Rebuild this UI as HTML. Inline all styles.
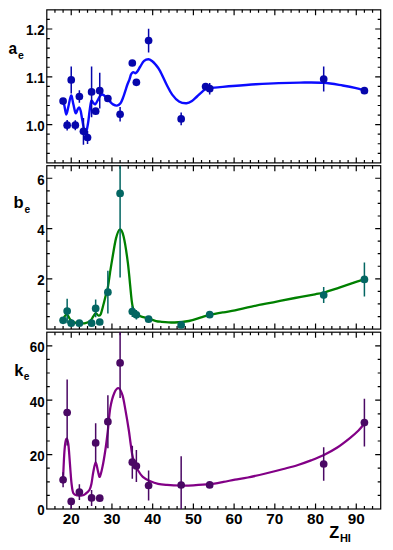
<!DOCTYPE html><html><head><meta charset="utf-8"><style>html,body{margin:0;padding:0;background:#fff;}svg{display:block;}text{font-family:"Liberation Sans",sans-serif;font-weight:bold;fill:#000;}</style></head><body><svg width="393" height="550" viewBox="0 0 393 550"><rect x="46.80" y="9.85" width="333.90" height="153.05" fill="none" stroke="#000" stroke-width="1.20"/><path d="M54.94,162.90v-3.00M54.94,9.85v3.00M63.09,162.90v-3.00M63.09,9.85v3.00M71.23,162.90v-5.50M71.23,9.85v5.50M79.38,162.90v-3.00M79.38,9.85v3.00M87.52,162.90v-3.00M87.52,9.85v3.00M95.66,162.90v-3.00M95.66,9.85v3.00M103.81,162.90v-3.00M103.81,9.85v3.00M111.95,162.90v-5.50M111.95,9.85v5.50M120.10,162.90v-3.00M120.10,9.85v3.00M128.24,162.90v-3.00M128.24,9.85v3.00M136.38,162.90v-3.00M136.38,9.85v3.00M144.53,162.90v-3.00M144.53,9.85v3.00M152.67,162.90v-5.50M152.67,9.85v5.50M160.81,162.90v-3.00M160.81,9.85v3.00M168.96,162.90v-3.00M168.96,9.85v3.00M177.10,162.90v-3.00M177.10,9.85v3.00M185.25,162.90v-3.00M185.25,9.85v3.00M193.39,162.90v-5.50M193.39,9.85v5.50M201.53,162.90v-3.00M201.53,9.85v3.00M209.68,162.90v-3.00M209.68,9.85v3.00M217.82,162.90v-3.00M217.82,9.85v3.00M225.97,162.90v-3.00M225.97,9.85v3.00M234.11,162.90v-5.50M234.11,9.85v5.50M242.25,162.90v-3.00M242.25,9.85v3.00M250.40,162.90v-3.00M250.40,9.85v3.00M258.54,162.90v-3.00M258.54,9.85v3.00M266.69,162.90v-3.00M266.69,9.85v3.00M274.83,162.90v-5.50M274.83,9.85v5.50M282.97,162.90v-3.00M282.97,9.85v3.00M291.12,162.90v-3.00M291.12,9.85v3.00M299.26,162.90v-3.00M299.26,9.85v3.00M307.40,162.90v-3.00M307.40,9.85v3.00M315.55,162.90v-5.50M315.55,9.85v5.50M323.69,162.90v-3.00M323.69,9.85v3.00M331.84,162.90v-3.00M331.84,9.85v3.00M339.98,162.90v-3.00M339.98,9.85v3.00M348.12,162.90v-3.00M348.12,9.85v3.00M356.27,162.90v-5.50M356.27,9.85v5.50M364.41,162.90v-3.00M364.41,9.85v3.00M372.56,162.90v-3.00M372.56,9.85v3.00M46.80,153.33h3.00M380.70,153.33h-3.00M46.80,143.77h3.00M380.70,143.77h-3.00M46.80,134.20h3.00M380.70,134.20h-3.00M46.80,124.64h5.50M380.70,124.64h-5.50M46.80,115.07h3.00M380.70,115.07h-3.00M46.80,105.51h3.00M380.70,105.51h-3.00M46.80,95.94h3.00M380.70,95.94h-3.00M46.80,86.37h3.00M380.70,86.37h-3.00M46.80,76.81h5.50M380.70,76.81h-5.50M46.80,67.24h3.00M380.70,67.24h-3.00M46.80,57.68h3.00M380.70,57.68h-3.00M46.80,48.11h3.00M380.70,48.11h-3.00M46.80,38.55h3.00M380.70,38.55h-3.00M46.80,28.98h5.50M380.70,28.98h-5.50M46.80,19.42h3.00M380.70,19.42h-3.00" stroke="#000" stroke-width="1.20" fill="none"/><rect x="46.80" y="165.70" width="333.90" height="163.40" fill="none" stroke="#000" stroke-width="1.20"/><path d="M54.94,329.10v-3.00M54.94,165.70v3.00M63.09,329.10v-3.00M63.09,165.70v3.00M71.23,329.10v-5.50M71.23,165.70v5.50M79.38,329.10v-3.00M79.38,165.70v3.00M87.52,329.10v-3.00M87.52,165.70v3.00M95.66,329.10v-3.00M95.66,165.70v3.00M103.81,329.10v-3.00M103.81,165.70v3.00M111.95,329.10v-5.50M111.95,165.70v5.50M120.10,329.10v-3.00M120.10,165.70v3.00M128.24,329.10v-3.00M128.24,165.70v3.00M136.38,329.10v-3.00M136.38,165.70v3.00M144.53,329.10v-3.00M144.53,165.70v3.00M152.67,329.10v-5.50M152.67,165.70v5.50M160.81,329.10v-3.00M160.81,165.70v3.00M168.96,329.10v-3.00M168.96,165.70v3.00M177.10,329.10v-3.00M177.10,165.70v3.00M185.25,329.10v-3.00M185.25,165.70v3.00M193.39,329.10v-5.50M193.39,165.70v5.50M201.53,329.10v-3.00M201.53,165.70v3.00M209.68,329.10v-3.00M209.68,165.70v3.00M217.82,329.10v-3.00M217.82,165.70v3.00M225.97,329.10v-3.00M225.97,165.70v3.00M234.11,329.10v-5.50M234.11,165.70v5.50M242.25,329.10v-3.00M242.25,165.70v3.00M250.40,329.10v-3.00M250.40,165.70v3.00M258.54,329.10v-3.00M258.54,165.70v3.00M266.69,329.10v-3.00M266.69,165.70v3.00M274.83,329.10v-5.50M274.83,165.70v5.50M282.97,329.10v-3.00M282.97,165.70v3.00M291.12,329.10v-3.00M291.12,165.70v3.00M299.26,329.10v-3.00M299.26,165.70v3.00M307.40,329.10v-3.00M307.40,165.70v3.00M315.55,329.10v-5.50M315.55,165.70v5.50M323.69,329.10v-3.00M323.69,165.70v3.00M331.84,329.10v-3.00M331.84,165.70v3.00M339.98,329.10v-3.00M339.98,165.70v3.00M348.12,329.10v-3.00M348.12,165.70v3.00M356.27,329.10v-5.50M356.27,165.70v5.50M364.41,329.10v-3.00M364.41,165.70v3.00M372.56,329.10v-3.00M372.56,165.70v3.00M46.80,316.53h3.00M380.70,316.53h-3.00M46.80,303.96h3.00M380.70,303.96h-3.00M46.80,291.39h3.00M380.70,291.39h-3.00M46.80,278.82h5.50M380.70,278.82h-5.50M46.80,266.25h3.00M380.70,266.25h-3.00M46.80,253.68h3.00M380.70,253.68h-3.00M46.80,241.12h3.00M380.70,241.12h-3.00M46.80,228.55h5.50M380.70,228.55h-5.50M46.80,215.98h3.00M380.70,215.98h-3.00M46.80,203.41h3.00M380.70,203.41h-3.00M46.80,190.84h3.00M380.70,190.84h-3.00M46.80,178.27h5.50M380.70,178.27h-5.50" stroke="#000" stroke-width="1.20" fill="none"/><rect x="46.80" y="332.20" width="333.90" height="176.80" fill="none" stroke="#000" stroke-width="1.20"/><path d="M54.94,509.00v-3.00M54.94,332.20v3.00M63.09,509.00v-3.00M63.09,332.20v3.00M71.23,509.00v-5.50M71.23,332.20v5.50M79.38,509.00v-3.00M79.38,332.20v3.00M87.52,509.00v-3.00M87.52,332.20v3.00M95.66,509.00v-3.00M95.66,332.20v3.00M103.81,509.00v-3.00M103.81,332.20v3.00M111.95,509.00v-5.50M111.95,332.20v5.50M120.10,509.00v-3.00M120.10,332.20v3.00M128.24,509.00v-3.00M128.24,332.20v3.00M136.38,509.00v-3.00M136.38,332.20v3.00M144.53,509.00v-3.00M144.53,332.20v3.00M152.67,509.00v-5.50M152.67,332.20v5.50M160.81,509.00v-3.00M160.81,332.20v3.00M168.96,509.00v-3.00M168.96,332.20v3.00M177.10,509.00v-3.00M177.10,332.20v3.00M185.25,509.00v-3.00M185.25,332.20v3.00M193.39,509.00v-5.50M193.39,332.20v5.50M201.53,509.00v-3.00M201.53,332.20v3.00M209.68,509.00v-3.00M209.68,332.20v3.00M217.82,509.00v-3.00M217.82,332.20v3.00M225.97,509.00v-3.00M225.97,332.20v3.00M234.11,509.00v-5.50M234.11,332.20v5.50M242.25,509.00v-3.00M242.25,332.20v3.00M250.40,509.00v-3.00M250.40,332.20v3.00M258.54,509.00v-3.00M258.54,332.20v3.00M266.69,509.00v-3.00M266.69,332.20v3.00M274.83,509.00v-5.50M274.83,332.20v5.50M282.97,509.00v-3.00M282.97,332.20v3.00M291.12,509.00v-3.00M291.12,332.20v3.00M299.26,509.00v-3.00M299.26,332.20v3.00M307.40,509.00v-3.00M307.40,332.20v3.00M315.55,509.00v-5.50M315.55,332.20v5.50M323.69,509.00v-3.00M323.69,332.20v3.00M331.84,509.00v-3.00M331.84,332.20v3.00M339.98,509.00v-3.00M339.98,332.20v3.00M348.12,509.00v-3.00M348.12,332.20v3.00M356.27,509.00v-5.50M356.27,332.20v5.50M364.41,509.00v-3.00M364.41,332.20v3.00M372.56,509.00v-3.00M372.56,332.20v3.00M46.80,495.40h3.00M380.70,495.40h-3.00M46.80,481.80h3.00M380.70,481.80h-3.00M46.80,468.20h3.00M380.70,468.20h-3.00M46.80,454.60h5.50M380.70,454.60h-5.50M46.80,441.00h3.00M380.70,441.00h-3.00M46.80,427.40h3.00M380.70,427.40h-3.00M46.80,413.80h3.00M380.70,413.80h-3.00M46.80,400.20h5.50M380.70,400.20h-5.50M46.80,386.60h3.00M380.70,386.60h-3.00M46.80,373.00h3.00M380.70,373.00h-3.00M46.80,359.40h3.00M380.70,359.40h-3.00M46.80,345.80h5.50M380.70,345.80h-5.50" stroke="#000" stroke-width="1.20" fill="none"/><path d="M63.10,101.20 C63.32,101.95 63.87,103.48 64.40,105.70 C64.93,107.92 65.63,114.37 66.30,114.50 C66.97,114.63 67.60,109.67 68.40,106.50 C69.20,103.33 70.28,95.92 71.10,95.50 C71.92,95.08 72.55,101.08 73.30,104.00 C74.05,106.92 74.88,112.08 75.60,113.00 C76.32,113.92 77.00,110.42 77.60,109.50 C78.20,108.58 78.68,107.25 79.20,107.50 C79.72,107.75 80.18,108.92 80.70,111.00 C81.22,113.08 81.53,116.17 82.30,120.00 C83.07,123.83 84.35,133.42 85.30,134.00 C86.25,134.58 87.28,127.33 88.00,123.50 C88.72,119.67 89.05,114.75 89.60,111.00 C90.15,107.25 90.68,102.33 91.30,101.00 C91.92,99.67 92.63,102.45 93.30,103.00 C93.97,103.55 94.58,104.72 95.30,104.30 C96.02,103.88 96.82,101.90 97.60,100.50 C98.38,99.10 99.18,96.90 100.00,95.90 C100.82,94.90 101.47,94.25 102.50,94.50 C103.53,94.75 104.95,96.22 106.20,97.40 C107.45,98.58 108.87,100.43 110.00,101.60 C111.13,102.77 111.85,103.73 113.00,104.40 C114.15,105.07 115.65,105.80 116.90,105.60 C118.15,105.40 119.48,104.50 120.50,103.20 C121.52,101.90 122.17,99.95 123.00,97.80 C123.83,95.65 124.73,92.60 125.50,90.30 C126.27,88.00 126.93,85.83 127.60,84.00 C128.27,82.17 128.93,80.87 129.50,79.30 C130.07,77.73 130.48,75.75 131.00,74.60 C131.52,73.45 132.07,72.73 132.60,72.40 C133.13,72.07 133.70,72.47 134.20,72.60 C134.70,72.73 135.05,73.42 135.60,73.20 C136.15,72.98 136.72,72.42 137.50,71.30 C138.28,70.18 139.20,68.23 140.30,66.50 C141.40,64.77 142.73,62.12 144.10,60.90 C145.47,59.68 147.18,59.18 148.50,59.20 C149.82,59.22 150.83,60.12 152.00,61.00 C153.17,61.88 154.17,62.87 155.50,64.50 C156.83,66.13 158.12,67.38 160.00,70.80 C161.88,74.22 164.77,81.03 166.80,85.00 C168.83,88.97 170.17,91.85 172.20,94.60 C174.23,97.35 176.62,100.07 179.00,101.50 C181.38,102.93 184.33,103.28 186.50,103.20 C188.67,103.12 190.25,102.12 192.00,101.00 C193.75,99.88 195.10,98.23 197.00,96.50 C198.90,94.77 201.60,92.05 203.40,90.60 C205.20,89.15 205.93,88.30 207.80,87.80 C209.67,87.30 210.42,87.90 214.60,87.60 C218.78,87.30 226.03,86.55 232.90,86.00 C239.77,85.45 248.17,84.78 255.80,84.30 C263.43,83.82 271.33,83.38 278.70,83.10 C286.07,82.82 292.52,82.65 300.00,82.60 C307.48,82.55 316.48,82.32 323.60,82.80 C330.72,83.28 337.28,84.62 342.70,85.50 C348.12,86.38 352.45,87.25 356.10,88.10 C359.75,88.95 363.18,90.18 364.60,90.60" fill="none" stroke="#0c0cff" stroke-width="2.40" stroke-linejoin="round" stroke-linecap="round"/><path d="M67.16,120.00V130.40M71.23,66.40V93.40M75.30,120.20V130.20M79.38,90.30V102.70M83.45,117.90V144.70M87.52,130.90V144.10M91.59,66.60V117.20M99.74,72.80V108.60M120.10,107.00V121.60M148.60,28.80V52.40M181.17,112.60V125.20M209.68,82.90V94.50M323.69,66.50V91.50" stroke="#0606ac" stroke-width="1.5" fill="none"/><circle cx="63.09" cy="101.10" r="3.85" fill="#0606ac"/><circle cx="67.16" cy="125.20" r="3.85" fill="#0606ac"/><circle cx="71.23" cy="79.90" r="3.85" fill="#0606ac"/><circle cx="75.30" cy="125.20" r="3.85" fill="#0606ac"/><circle cx="79.38" cy="96.50" r="3.85" fill="#0606ac"/><circle cx="83.45" cy="131.30" r="3.85" fill="#0606ac"/><circle cx="87.52" cy="137.50" r="3.85" fill="#0606ac"/><circle cx="91.59" cy="91.90" r="3.85" fill="#0606ac"/><circle cx="95.66" cy="111.20" r="3.85" fill="#0606ac"/><circle cx="99.74" cy="90.70" r="3.85" fill="#0606ac"/><circle cx="107.88" cy="98.50" r="3.85" fill="#0606ac"/><circle cx="120.10" cy="114.30" r="3.85" fill="#0606ac"/><circle cx="132.31" cy="63.00" r="3.85" fill="#0606ac"/><circle cx="136.38" cy="82.30" r="3.85" fill="#0606ac"/><circle cx="148.60" cy="40.60" r="3.85" fill="#0606ac"/><circle cx="181.17" cy="118.90" r="3.85" fill="#0606ac"/><circle cx="205.61" cy="86.60" r="3.85" fill="#0606ac"/><circle cx="209.68" cy="88.70" r="3.85" fill="#0606ac"/><circle cx="323.69" cy="79.00" r="3.85" fill="#0606ac"/><circle cx="364.41" cy="90.70" r="3.85" fill="#0606ac"/><path d="M63.10,320.30 C63.35,319.67 63.92,317.45 64.60,316.50 C65.28,315.55 66.27,314.10 67.20,314.60 C68.13,315.10 69.07,318.20 70.20,319.50 C71.33,320.80 72.52,321.77 74.00,322.40 C75.48,323.03 77.20,323.17 79.10,323.30 C81.00,323.43 83.50,323.65 85.40,323.20 C87.30,322.75 89.20,321.72 90.50,320.60 C91.80,319.48 92.32,317.73 93.20,316.50 C94.08,315.27 94.95,313.37 95.80,313.20 C96.65,313.03 97.48,315.32 98.30,315.50 C99.12,315.68 99.82,316.22 100.70,314.30 C101.58,312.38 102.78,307.05 103.60,304.00 C104.42,300.95 104.93,298.53 105.60,296.00 C106.27,293.47 106.87,292.63 107.60,288.80 C108.33,284.97 109.23,277.90 110.00,273.00 C110.77,268.10 111.20,265.17 112.20,259.40 C113.20,253.63 114.73,243.38 116.00,238.40 C117.27,233.42 118.53,229.82 119.80,229.50 C121.07,229.18 122.25,230.88 123.60,236.50 C124.95,242.12 126.53,252.38 127.90,263.20 C129.27,274.02 130.77,293.45 131.80,301.40 C132.83,309.35 133.15,308.63 134.10,310.90 C135.05,313.17 136.38,314.10 137.50,315.00 C138.62,315.90 138.97,315.72 140.80,316.30 C142.63,316.88 146.08,317.75 148.50,318.50 C150.92,319.25 153.32,320.27 155.30,320.80 C157.28,321.33 157.18,321.42 160.40,321.70 C163.62,321.98 169.85,322.62 174.60,322.50 C179.35,322.38 184.48,321.87 188.90,321.00 C193.32,320.13 197.62,318.32 201.10,317.30 C204.58,316.28 206.07,315.73 209.80,314.90 C213.53,314.07 219.30,313.05 223.50,312.30 C227.70,311.55 230.32,311.35 235.00,310.40 C239.68,309.45 245.22,307.95 251.60,306.60 C257.98,305.25 266.08,303.73 273.30,302.30 C280.52,300.87 287.95,299.33 294.90,298.00 C301.85,296.67 310.20,295.22 315.00,294.30 C319.80,293.38 319.77,293.58 323.70,292.50 C327.63,291.42 333.57,289.43 338.60,287.80 C343.63,286.17 349.53,284.12 353.90,282.70 C358.27,281.28 362.98,279.87 364.80,279.30" fill="none" stroke="#008000" stroke-width="2.30" stroke-linejoin="round" stroke-linecap="round"/><path d="M67.16,298.80V323.20M95.66,299.60V317.20M107.88,270.80V313.60M120.10,165.70V277.60M132.31,306.00V317.00M136.38,310.00V319.60M323.69,287.10V303.10M364.41,262.40V296.40" stroke="#036662" stroke-width="1.5" fill="none"/><circle cx="63.09" cy="320.30" r="3.85" fill="#036662"/><circle cx="67.16" cy="311.00" r="3.85" fill="#036662"/><circle cx="71.23" cy="323.20" r="3.85" fill="#036662"/><circle cx="79.38" cy="323.20" r="3.85" fill="#036662"/><circle cx="91.59" cy="323.20" r="3.85" fill="#036662"/><circle cx="95.66" cy="308.40" r="3.85" fill="#036662"/><circle cx="99.74" cy="322.00" r="3.85" fill="#036662"/><circle cx="107.88" cy="292.20" r="3.85" fill="#036662"/><circle cx="120.10" cy="193.40" r="3.85" fill="#036662"/><circle cx="132.31" cy="311.50" r="3.85" fill="#036662"/><circle cx="136.38" cy="314.80" r="3.85" fill="#036662"/><circle cx="148.60" cy="319.20" r="3.85" fill="#036662"/><circle cx="181.17" cy="324.90" r="3.85" fill="#036662"/><circle cx="209.68" cy="314.70" r="3.85" fill="#036662"/><circle cx="323.69" cy="295.10" r="3.85" fill="#036662"/><circle cx="364.41" cy="279.40" r="3.85" fill="#036662"/><path d="M63.10,478.00 C63.28,474.17 63.83,460.83 64.20,455.00 C64.57,449.17 64.87,445.73 65.30,443.00 C65.73,440.27 66.30,438.43 66.80,438.60 C67.30,438.77 67.88,441.27 68.30,444.00 C68.72,446.73 68.95,450.67 69.30,455.00 C69.65,459.33 70.02,465.17 70.40,470.00 C70.78,474.83 71.10,480.13 71.60,484.00 C72.10,487.87 72.35,491.28 73.40,493.20 C74.45,495.12 76.47,495.12 77.90,495.50 C79.33,495.88 80.73,495.78 82.00,495.50 C83.27,495.22 84.27,494.72 85.50,493.80 C86.73,492.88 88.42,491.63 89.40,490.00 C90.38,488.37 90.75,487.00 91.40,484.00 C92.05,481.00 92.58,475.62 93.30,472.00 C94.02,468.38 94.92,462.40 95.70,462.30 C96.48,462.20 97.32,468.98 98.00,471.40 C98.68,473.82 99.05,477.57 99.80,476.80 C100.55,476.03 101.58,471.18 102.50,466.80 C103.42,462.42 104.43,456.30 105.30,450.50 C106.17,444.70 106.87,439.10 107.70,432.00 C108.53,424.90 109.20,414.40 110.30,407.90 C111.40,401.40 112.88,396.28 114.30,393.00 C115.72,389.72 117.42,387.77 118.80,388.20 C120.18,388.63 121.48,391.90 122.60,395.60 C123.72,399.30 124.48,404.75 125.50,410.40 C126.52,416.05 127.88,424.23 128.70,429.50 C129.52,434.77 129.82,437.83 130.40,442.00 C130.98,446.17 131.52,450.97 132.20,454.50 C132.88,458.03 133.58,460.63 134.50,463.20 C135.42,465.77 136.32,467.62 137.70,469.90 C139.08,472.18 140.68,475.00 142.80,476.90 C144.92,478.80 147.85,480.13 150.40,481.30 C152.95,482.47 155.33,483.30 158.10,483.90 C160.87,484.50 163.30,484.63 167.00,484.90 C170.70,485.17 175.92,485.43 180.30,485.50 C184.68,485.57 188.43,485.52 193.30,485.30 C198.17,485.08 204.47,484.77 209.50,484.20 C214.53,483.63 219.25,482.67 223.50,481.90 C227.75,481.13 230.95,480.33 235.00,479.60 C239.05,478.87 242.70,478.52 247.80,477.50 C252.90,476.48 259.67,474.92 265.60,473.50 C271.53,472.08 278.00,470.42 283.40,469.00 C288.80,467.58 293.40,466.43 298.00,465.00 C302.60,463.57 306.68,462.07 311.00,460.40 C315.32,458.73 319.58,457.10 323.90,455.00 C328.22,452.90 332.57,450.62 336.90,447.80 C341.23,444.98 346.30,440.98 349.90,438.10 C353.50,435.22 356.05,432.93 358.50,430.50 C360.95,428.07 363.58,424.67 364.60,423.50" fill="none" stroke="#820086" stroke-width="2.25" stroke-linejoin="round" stroke-linecap="round"/><path d="M63.09,472.30V487.30M67.16,379.50V445.50M71.23,501.40V509.00M79.38,484.20V500.00M91.59,489.90V505.90M95.66,423.30V462.50M107.88,395.20V448.20M120.10,332.20V397.90M132.31,445.70V478.70M136.38,450.00V482.00M148.60,470.50V500.50M181.17,456.30V509.00M323.69,447.30V480.70M364.41,398.80V446.40" stroke="#4a0864" stroke-width="1.5" fill="none"/><circle cx="63.09" cy="479.80" r="3.85" fill="#4a0864"/><circle cx="67.16" cy="412.50" r="3.85" fill="#4a0864"/><circle cx="71.23" cy="501.40" r="3.85" fill="#4a0864"/><circle cx="79.38" cy="492.10" r="3.85" fill="#4a0864"/><circle cx="91.59" cy="497.90" r="3.85" fill="#4a0864"/><circle cx="95.66" cy="442.90" r="3.85" fill="#4a0864"/><circle cx="99.74" cy="498.20" r="3.85" fill="#4a0864"/><circle cx="107.88" cy="421.70" r="3.85" fill="#4a0864"/><circle cx="120.10" cy="362.90" r="3.85" fill="#4a0864"/><circle cx="132.31" cy="462.20" r="3.85" fill="#4a0864"/><circle cx="136.38" cy="466.00" r="3.85" fill="#4a0864"/><circle cx="148.60" cy="485.50" r="3.85" fill="#4a0864"/><circle cx="181.17" cy="485.00" r="3.85" fill="#4a0864"/><circle cx="209.68" cy="484.90" r="3.85" fill="#4a0864"/><circle cx="323.69" cy="464.00" r="3.85" fill="#4a0864"/><circle cx="364.41" cy="422.60" r="3.85" fill="#4a0864"/><text transform="translate(44.6,125.74) scale(0.92,1.03)" font-size="14.5" text-anchor="end" dominant-baseline="central">1.0</text><text transform="translate(44.6,77.91) scale(0.92,1.03)" font-size="14.5" text-anchor="end" dominant-baseline="central">1.1</text><text transform="translate(44.6,30.08) scale(0.92,1.03)" font-size="14.5" text-anchor="end" dominant-baseline="central">1.2</text><text transform="translate(44.6,279.92) scale(0.92,1.03)" font-size="14.5" text-anchor="end" dominant-baseline="central">2</text><text transform="translate(44.6,229.65) scale(0.92,1.03)" font-size="14.5" text-anchor="end" dominant-baseline="central">4</text><text transform="translate(44.6,179.37) scale(0.92,1.03)" font-size="14.5" text-anchor="end" dominant-baseline="central">6</text><text transform="translate(44.6,510.10) scale(0.92,1.03)" font-size="14.5" text-anchor="end" dominant-baseline="central">0</text><text transform="translate(44.6,455.70) scale(0.92,1.03)" font-size="14.5" text-anchor="end" dominant-baseline="central">20</text><text transform="translate(44.6,401.30) scale(0.92,1.03)" font-size="14.5" text-anchor="end" dominant-baseline="central">40</text><text transform="translate(44.6,346.90) scale(0.92,1.03)" font-size="14.5" text-anchor="end" dominant-baseline="central">60</text><text x="71.23" y="524.3" font-size="15.3" text-anchor="middle">20</text><text x="111.95" y="524.3" font-size="15.3" text-anchor="middle">30</text><text x="152.67" y="524.3" font-size="15.3" text-anchor="middle">40</text><text x="193.39" y="524.3" font-size="15.3" text-anchor="middle">50</text><text x="234.11" y="524.3" font-size="15.3" text-anchor="middle">60</text><text x="274.83" y="524.3" font-size="15.3" text-anchor="middle">70</text><text x="315.55" y="524.3" font-size="15.3" text-anchor="middle">80</text><text x="356.27" y="524.3" font-size="15.3" text-anchor="middle">90</text><text x="8.4" y="54.1" font-size="17" textLength="8.6" lengthAdjust="spacingAndGlyphs">a</text><text x="18.0" y="58.6" font-size="10.5" font-weight="normal">e</text><text x="13.6" y="207.9" font-size="16.5">b</text><text x="24.4" y="213.0" font-size="10.2" font-weight="normal">e</text><text x="14.2" y="375.6" font-size="16.5">k</text><text x="23.8" y="380.0" font-size="10.2" font-weight="normal">e</text><text x="329.2" y="538.0" font-size="16.3">Z</text><text x="339.9" y="542.0" font-size="11">HI</text></svg></body></html>
